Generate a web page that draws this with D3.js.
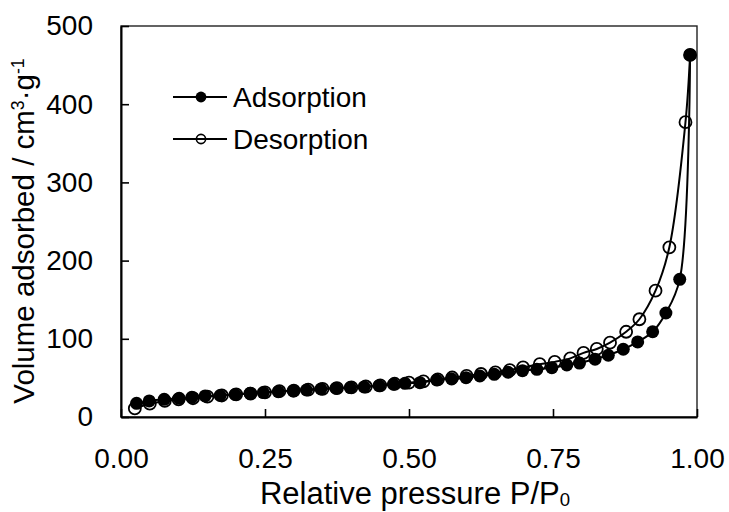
<!DOCTYPE html>
<html>
<head>
<meta charset="utf-8">
<script src="https://cdn.jsdelivr.net/npm/d3@7"></script>
<style>
  html, body { margin: 0; padding: 0; background: #fff; }
  svg { display: block; font-family: "Liberation Sans", Arial, sans-serif; }
</style>
</head>
<body>
<svg id="chart" width="729" height="512"></svg>
<script>
// N2 sorption isotherm: relative pressure vs. volume adsorbed
const adsorptionP = [0.027, 0.049, 0.075, 0.101, 0.123, 0.146, 0.172, 0.198, 0.224, 0.247,
                     0.273, 0.299, 0.322, 0.347, 0.373, 0.398, 0.422, 0.448, 0.473, 0.493,
                     0.519, 0.548, 0.574, 0.599, 0.623, 0.648, 0.672, 0.697, 0.722, 0.748,
                     0.774, 0.796, 0.823, 0.846, 0.872, 0.897, 0.923, 0.946, 0.970, 0.988];
const adsorptionV = [17.5, 20.5, 22.6, 23.9, 25.2, 26.9, 27.5, 28.8, 30.3, 31.2,
                     32.4, 33.3, 34.5, 35.8, 36.8, 37.6, 38.5, 40.0, 41.9, 43.1,
                     43.9, 47.3, 48.6, 50.3, 52.4, 54.6, 57.2, 59.2, 61.0, 63.0,
                     66.5, 69.0, 74.0, 79.0, 86.6, 96.0, 109.0, 133.0, 176.0, 463.0];

const desorptionP = [0.024, 0.050, 0.076, 0.100, 0.125, 0.150, 0.175, 0.200, 0.225, 0.250,
                     0.275, 0.300, 0.325, 0.350, 0.375, 0.400, 0.425, 0.450, 0.475, 0.500,
                     0.525, 0.550, 0.575, 0.600, 0.625, 0.650, 0.675, 0.698, 0.727, 0.753,
                     0.780, 0.803, 0.826, 0.849, 0.877, 0.900, 0.928, 0.952, 0.980, 0.988];
const desorptionV = [11.0, 17.0, 20.5, 22.5, 24.0, 26.0, 27.5, 29.0, 30.0, 31.5,
                     33.0, 33.8, 35.0, 36.0, 37.0, 38.0, 39.0, 40.5, 42.5, 44.0,
                     45.5, 48.0, 50.5, 52.5, 55.0, 57.0, 60.0, 63.5, 67.5, 70.5,
                     75.0, 82.0, 87.0, 95.0, 109.0, 125.0, 161.5, 217.0, 377.0, 463.0];

const xTicks = [0, 0.25, 0.5, 0.75, 1.0];
const yTicks = [0, 100, 200, 300, 400, 500];
const seriesNames = ["Adsorption", "Desorption"];

const svg = d3.select("#chart");
const plotLeft = 121, plotRight = 697, plotTop = 26, plotBottom = 417;
const FONT = 28;

const x = d3.scaleLinear().domain([0, 1]).range([plotLeft, plotRight]);
const y = d3.scaleLinear().domain([0, 500]).range([plotBottom, plotTop]);

// plot frame (top and right edges)
svg.append("rect")
  .attr("x", plotLeft).attr("y", plotTop)
  .attr("width", plotRight - plotLeft).attr("height", plotBottom - plotTop)
  .attr("fill", "none").attr("stroke", "#222").attr("stroke-width", 1.4);

// axes with inward ticks
const xAxis = svg.append("g")
  .attr("transform", `translate(0,${plotBottom})`)
  .call(d3.axisBottom(x).tickValues(xTicks).tickSize(-8).tickSizeOuter(0)
    .tickPadding(31).tickFormat(d => d.toFixed(2)));
const yAxis = svg.append("g")
  .attr("transform", `translate(${plotLeft},0)`)
  .call(d3.axisLeft(y).tickValues(yTicks).tickSize(-8).tickSizeOuter(0)
    .tickPadding(28).tickFormat(d3.format("d")));

[xAxis, yAxis].forEach(g => {
  g.select(".domain").attr("stroke", "#000").attr("stroke-width", 2);
  g.selectAll(".tick line").attr("stroke", "#000").attr("stroke-width", 1.6);
  g.selectAll(".tick text").attr("fill", "#000")
    .style("font-size", FONT + "px").style("font-family", "'Liberation Sans', Arial, sans-serif");
});

// axis titles
const TITLE_X = 31;
const xTitle = svg.append("text")
  .attr("x", 415).attr("y", 504)
  .attr("text-anchor", "middle").style("font-size", TITLE_X + "px");
xTitle.append("tspan").text("Relative pressure P/P");
xTitle.append("tspan").attr("dy", 2).style("font-size", (TITLE_X * 0.6) + "px").text("0");

const TITLE_Y = 29.5;
const yTitle = svg.append("text")
  .attr("transform", `translate(34,231) rotate(-90)`)
  .attr("text-anchor", "middle").style("font-size", TITLE_Y + "px");
yTitle.append("tspan").text("Volume adsorbed / cm");
yTitle.append("tspan").attr("dy", -10).style("font-size", (TITLE_Y * 0.6) + "px").text("3");
yTitle.append("tspan").attr("dy", 10).text("·g");
yTitle.append("tspan").attr("dy", -10).style("font-size", (TITLE_Y * 0.6) + "px").text("-1");

// series
const ads = adsorptionP.map((p, i) => [p, adsorptionV[i]]);
const des = desorptionP.map((p, i) => [p, desorptionV[i]]);

const line = d3.line()
  .x(d => x(d[0])).y(d => y(d[1]))
  .curve(d3.curveCatmullRom.alpha(0.5));

// desorption: hollow markers
svg.append("path").datum(des).attr("d", line)
  .attr("fill", "none").attr("stroke", "#000").attr("stroke-width", 2);
svg.append("g").selectAll("circle").data(des).join("circle")
  .attr("cx", d => x(d[0])).attr("cy", d => y(d[1])).attr("r", 6)
  .attr("fill", "none").attr("stroke", "#000").attr("stroke-width", 1.8);

// adsorption: filled markers
svg.append("path").datum(ads).attr("d", line)
  .attr("fill", "none").attr("stroke", "#000").attr("stroke-width", 2);
svg.append("g").selectAll("circle").data(ads).join("circle")
  .attr("cx", d => x(d[0])).attr("cy", d => y(d[1])).attr("r", 6.5)
  .attr("fill", "#000");

// legend
const legendRows = [
  { name: seriesNames[0], cy: 97, filled: true },
  { name: seriesNames[1], cy: 139, filled: false }
];
const lg = svg.append("g");
legendRows.forEach(r => {
  lg.append("line").attr("x1", 173).attr("x2", 227).attr("y1", r.cy).attr("y2", r.cy)
    .attr("stroke", "#000").attr("stroke-width", 2);
  lg.append("circle").attr("cx", 201).attr("cy", r.cy).attr("r", r.filled ? 5.4 : 4.6)
    .attr("fill", r.filled ? "#000" : "none").attr("stroke", "#000")
    .attr("stroke-width", r.filled ? 0 : 1.6);
  lg.append("text").attr("x", 233).attr("y", r.cy + 10)
    .style("font-size", FONT + "px").text(r.name);
});
</script>
</body>
</html>
